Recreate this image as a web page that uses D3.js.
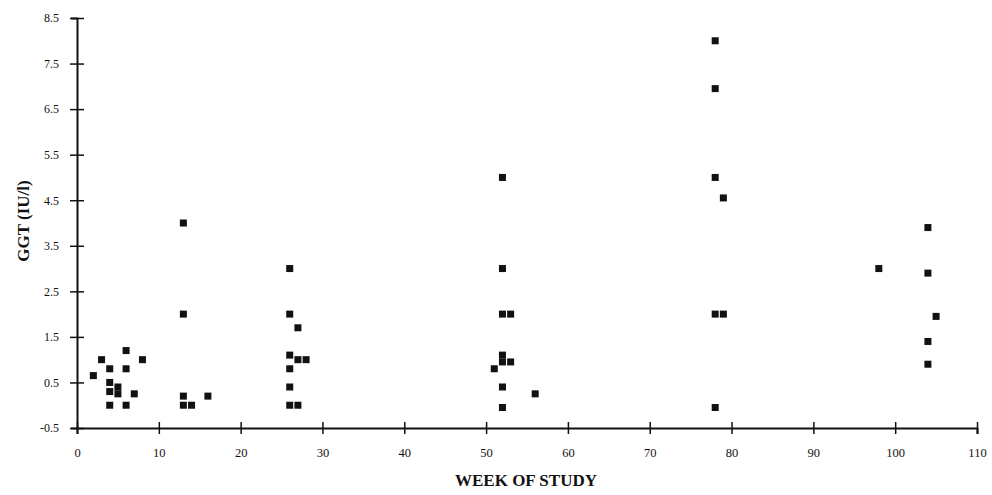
<!DOCTYPE html>
<html><head><meta charset="utf-8">
<script src="https://cdn.jsdelivr.net/npm/d3@7"></script>
<style>
html,body{margin:0;padding:0;background:#fff;}
svg{display:block;}
text{font-family:"Liberation Serif","Times New Roman",serif;fill:#111;}
</style></head>
<body>
<svg id="chart" width="992" height="495"></svg>
<script>
// Data: week of study and GGT (IU/l) values
const weeks = [2,3,4,6,6,8,4,4,5,5,7,4,6,
  13,13,14,16,13,13,
  26,26,27,26,27,28,26,26,26,27,
  52,52,52,53,52,52,53,51,52,56,52,
  78,78,78,79,78,79,78,
  98,104,104,105,104,104];
const ggt = [0.65,1.0,0.8,1.2,0.8,1.0,0.5,0.3,0.4,0.25,0.25,0.0,0.0,
  0.2,0.0,0.0,0.2,4.0,2.0,
  3.0,2.0,1.7,1.1,1.0,1.0,0.8,0.4,0.0,0.0,
  5.0,3.0,2.0,2.0,1.1,0.95,0.95,0.8,0.4,0.25,-0.05,
  8.0,6.95,5.0,4.55,2.0,2.0,-0.05,
  3.0,3.9,2.9,1.95,1.4,0.9];
const xTicks = [0,10,20,30,40,50,60,70,80,90,100,110];
const yTicks = [-0.5,0.5,1.5,2.5,3.5,4.5,5.5,6.5,7.5,8.5];
const xTitle = "WEEK OF STUDY";
const yTitle = "GGT (IU/l)";

const svg = d3.select("#chart");
const x = d3.scaleLinear().domain([0,110]).range([77,977]);
const y = d3.scaleLinear().domain([-0.5,8.5]).range([428,18]);

// X axis
const gx = svg.append("g").attr("transform",`translate(0,${y(-0.5)})`)
  .call(d3.axisBottom(x).tickValues(xTicks).tickFormat(d3.format("d")).tickSize(6).tickPadding(14));
gx.select(".domain").attr("stroke","#111").attr("stroke-width",2);
gx.selectAll(".tick line").attr("y1",-6).attr("y2",6).attr("stroke","#111").attr("stroke-width",1.5);
gx.selectAll(".tick text").attr("font-size",12.5).attr("font-family","Liberation Serif").attr("fill","#111");

// Y axis
const gy = svg.append("g").attr("transform",`translate(${x(0)},0)`)
  .call(d3.axisLeft(y).tickValues(yTicks).tickFormat(d=>String(d)).tickSize(6).tickPadding(12));
gy.select(".domain").attr("stroke","#111").attr("stroke-width",2);
gy.selectAll(".tick line").attr("x1",-7).attr("x2",7).attr("stroke","#111").attr("stroke-width",1.5);
gy.selectAll(".tick text").attr("font-size",12).attr("font-family","Liberation Serif").attr("fill","#111");

// Points
const s = 7;
svg.append("g").selectAll("rect").data(weeks.map((w,i)=>[w,ggt[i]])).join("rect")
  .attr("x",d=>x(d[0])-s/2).attr("y",d=>y(d[1])-s/2)
  .attr("width",s).attr("height",s).attr("fill","#111");

// Titles
svg.append("text").attr("x",526).attr("y",486).attr("text-anchor","middle")
  .attr("font-size",17).attr("font-weight","bold").text(xTitle);
svg.append("text").attr("transform","translate(29,221) rotate(-90)").attr("text-anchor","middle")
  .attr("font-size",17).attr("font-weight","bold").text(yTitle);
</script>
</body></html>
